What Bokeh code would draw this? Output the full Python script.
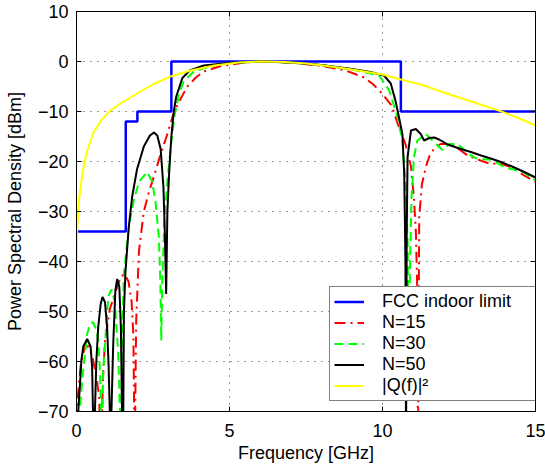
from bokeh.plotting import figure
from bokeh.models import Range1d, FixedTicker, LinearAxis, CustomLabelingPolicy
from bokeh.embed import file_html
from bokeh.resources import INLINE

# ---------------- data ----------------
x_ticks = [0, 5, 10, 15]
y_ticks = [-70, -60, -50, -40, -30, -20, -10, 0, 10]

# FCC indoor limit (step edges, GHz / dBm)
fcc_f = [0, 1.61, 1.99, 3.1, 10.6, 15]
fcc_db = [-34, -12, -10, 0, -10, -10]

# N = 15
n15_f = [0.0, 0.05, 0.15, 0.28, 0.4, 0.52, 0.65, 0.74, 0.8, 0.86, 0.93, 1.09, 1.28,
         1.45, 1.57, 1.7, 1.8, 1.86, 1.9, 1.95, 2.04, 2.2, 2.37, 2.53, 2.75, 2.97,
         3.18, 3.4, 3.62, 3.9, 4.16, 4.71, 5.5, 6.3, 7.0, 8.0, 8.8, 9.4, 9.7, 10.0,
         10.3, 10.5, 10.75, 10.93, 11.03, 11.09, 11.13, 11.16, 11.2, 11.29, 11.42,
         11.53, 11.7, 11.9, 12.23, 12.56, 12.78, 13.2, 13.54, 13.8, 14.2, 14.63, 15.0]
n15_db = [-72, -66.5, -60, -57, -57, -59, -63, -67, -80, -64, -56, -49.5, -46,
          -43, -42.5, -44, -48, -55, -80, -52, -38, -30, -26, -23, -18.5, -14.5,
          -10.2, -7.5, -5, -3.2, -2, -0.9, -0.2, 0, -0.2, -0.9, -1.8, -3.2, -4.6, -6.5,
          -8.8, -12.5, -16.5, -21, -27.5, -34, -44, -80, -31, -24.5, -21,
          -19, -17.3, -16.5, -16.5, -17.8, -18.8, -19.8, -20.5, -20.3, -21.1, -22.8, -24.1]

# N = 30
n30_f = [0.05, 0.11, 0.22, 0.35, 0.44, 0.54, 0.64, 0.71, 0.76, 0.8, 0.83, 0.87, 0.93,
         1.04, 1.14, 1.25, 1.36, 1.42, 1.45, 1.49, 1.55, 1.71, 1.88, 2.05, 2.31, 2.47,
         2.58, 2.69, 2.74, 2.77, 2.8, 2.87, 2.97, 3.08, 3.2, 3.35, 3.5, 3.84, 4.5, 5.0,
         6.0, 7.0, 8.0, 9.0, 9.89, 10.22, 10.49, 10.65, 10.76, 10.82, 10.86, 10.9,
         10.95, 11.03, 11.14, 11.42, 11.63, 11.96, 12.18, 12.45, 12.89, 13.11, 13.54,
         13.98, 14.2, 14.52, 15.0]
n30_db = [-80, -69, -61.8, -54.5, -52.5, -52.1, -53.5, -55.8, -61, -68, -80, -62, -56.5,
          -47, -45.6, -48, -58, -70, -80, -55, -42.5, -33, -27.5, -24, -22.1, -24,
          -28, -35, -44, -55.8, -45, -32, -24, -17, -11, -6.5, -4, -2, -0.7, -0.3,
          0, -0.2, -0.7, -1.6, -2.8, -5.8, -11.1, -15.8, -25.8, -36, -65, -40,
          -27, -19.1, -15.8, -14.5, -15.8, -17.7, -16.5, -16.5, -18.8, -19.5, -19.6,
          -21.1, -21.5, -21.8, -23.8]

# N = 50
n50_f = [0.04, 0.05, 0.11, 0.16, 0.22, 0.35, 0.46, 0.51, 0.54, 0.57, 0.6, 0.65, 0.71,
         0.79, 0.85, 0.93, 1.0, 1.05, 1.09, 1.11, 1.14, 1.2, 1.27, 1.33, 1.4, 1.45,
         1.49, 1.52, 1.55, 1.6, 1.71, 1.82, 1.98, 2.2, 2.4, 2.53, 2.64, 2.75, 2.84,
         2.89, 2.93, 2.97, 3.03, 3.1, 3.18, 3.26, 3.46, 3.7, 4.16, 5.0, 6.0, 7.0, 8.0,
         9.0, 9.6, 10.05, 10.27, 10.43, 10.55, 10.65, 10.71, 10.75, 10.77, 10.79,
         10.82, 10.93, 11.09, 11.25, 11.36, 11.53, 11.69, 11.85, 12.13, 12.56, 12.89,
         13.22, 13.54, 13.87, 14.31, 14.63, 15.0]
n50_db = [-80, -70.5, -65, -59.8, -57, -55.5, -57, -61, -70.5, -80, -70.5, -59.8, -53.1,
          -48.5, -47.1, -48.1, -53.1, -61.1, -70.5, -80, -70.5, -56.5, -45.8, -43.5, -45.1, -53.1,
          -70.5, -80, -50, -42, -33, -27, -21.5, -17, -14.8, -14.2, -14.8, -17.5, -25,
          -35, -46.5, -30, -22, -15, -10, -7, -3.3, -1.8, -0.8, -0.3, 0, -0.2, -0.7,
          -1.5, -2.1, -2.8, -4.4, -8, -11.5, -14.5, -22.5, -40, -80, -35,
          -19.1, -13.8, -13.5, -14.5, -15.8, -15.3, -15.2, -15.6, -16.6, -17.5, -18.1,
          -18.8, -19.4, -20.1, -21.2, -22.1, -23.2]

# |Q(f)|^2
q_f = [0.0, 0.005, 0.02, 0.08, 0.19, 0.35, 0.57, 0.84, 1.11, 1.38, 1.66, 2.0, 2.53,
       3.07, 3.73, 4.5, 5.3, 6.0, 6.8, 7.5, 8.2, 9.0, 9.6, 10.0, 10.6, 11.25, 12.1,
       13.0, 13.8, 14.4, 15.0]
q_db = [-52, -42, -34, -27.8, -22.5, -17.8, -14, -11.5, -9.8, -8.6, -7.6, -6.3, -4.5,
        -3.0, -1.8, -0.8, -0.2, 0, -0.1, -0.4, -0.9, -1.6, -2.2, -2.6, -3.6, -4.6, -6.4,
        -8.2, -9.8, -11.2, -12.8]

FONT = "Liberation Sans"

p = figure(width=545, height=469, output_backend="svg", toolbar_location=None,
           x_range=Range1d(0, 15), y_range=Range1d(-70, 10),
           min_border_left=76, min_border_right=10, min_border_top=11, min_border_bottom=58)

p.step(fcc_f, fcc_db, mode="after", line_color="#0000ff", line_width=2.5,
       legend_label="FCC indoor limit")
p.line(n15_f, n15_db, line_color="#ff0000", line_width=2, line_dash="11 5 2 5",
       legend_label="N=15")
p.line(n30_f, n30_db, line_color="#00ff00", line_width=2, line_dash="9 5",
       legend_label="N=30")
p.line(n50_f, n50_db, line_color="black", line_width=2, legend_label="N=50")
p.line(q_f, q_db, line_color="#ffff00", line_width=2, legend_label="|Q(f)|\u00b2")

# axes
for ax in (p.xaxis[0], p.yaxis[0]):
    ax.major_tick_in = 5
    ax.major_tick_out = 0
    ax.minor_tick_line_color = None
    ax.axis_line_color = "black"
    ax.axis_line_width = 1
    ax.major_tick_line_color = "black"
    ax.major_label_text_font = FONT
    ax.major_label_text_font_size = "18px"
    ax.major_label_text_color = "black"
    ax.axis_label_text_font = FONT
    ax.axis_label_text_font_size = "18px"
    ax.axis_label_text_font_style = "normal"
    ax.axis_label_text_color = "black"

p.xaxis[0].ticker = FixedTicker(ticks=x_ticks)
p.yaxis[0].ticker = FixedTicker(ticks=y_ticks)
p.yaxis[0].major_label_overrides = {v: str(v).replace("-", "\u2212") for v in y_ticks}
p.xaxis[0].axis_label = "Frequency [GHz]"
p.yaxis[0].axis_label = "Power Spectral Density [dBm]"
p.xaxis[0].major_label_standoff = 12
p.xaxis[0].axis_label_standoff = 3
p.yaxis[0].major_label_standoff = 8
p.yaxis[0].axis_label_standoff = 10

no_labels = CustomLabelingPolicy(code="""
try {
  for (const i of Array.from(indices)) indices.unset(i)
} catch (e) {
  try { for (const i of Array.from(indices)) indices.set(i, false) } catch (e2) {}
}
return indices
""")

for loc, tk in (("above", x_ticks), ("right", y_ticks)):
    ax = LinearAxis(ticker=FixedTicker(ticks=tk), major_label_text_font_size="0px",
                    major_label_policy=no_labels,
                    major_label_standoff=0, major_tick_in=5, major_tick_out=0,
                    minor_tick_line_color=None, axis_line_color="black")
    p.add_layout(ax, loc)

# grid
for g in (p.xgrid[0], p.ygrid[0]):
    g.grid_line_color = "black"
    g.grid_line_alpha = 0.8
    g.grid_line_dash = "1 6"
    g.grid_line_width = 1
p.xgrid[0].ticker = FixedTicker(ticks=x_ticks)
p.ygrid[0].ticker = FixedTicker(ticks=y_ticks)

p.outline_line_color = "black"
p.outline_line_width = 1
p.background_fill_color = "white"
p.border_fill_color = "white"

lg = p.legend[0]
lg.location = (253, 10)
lg.label_text_font = FONT
lg.label_text_font_size = "18px"
lg.label_text_color = "black"
lg.padding = 4
lg.spacing = 0
lg.label_height = 21
lg.glyph_height = 21
lg.glyph_width = 30
lg.label_standoff = 18
lg.label_width = 162
lg.border_line_color = "black"
lg.border_line_width = 1
lg.background_fill_color = "white"
lg.background_fill_alpha = 1.0
lg.margin = 0

open("out.html", "w").write(file_html(p, INLINE))
